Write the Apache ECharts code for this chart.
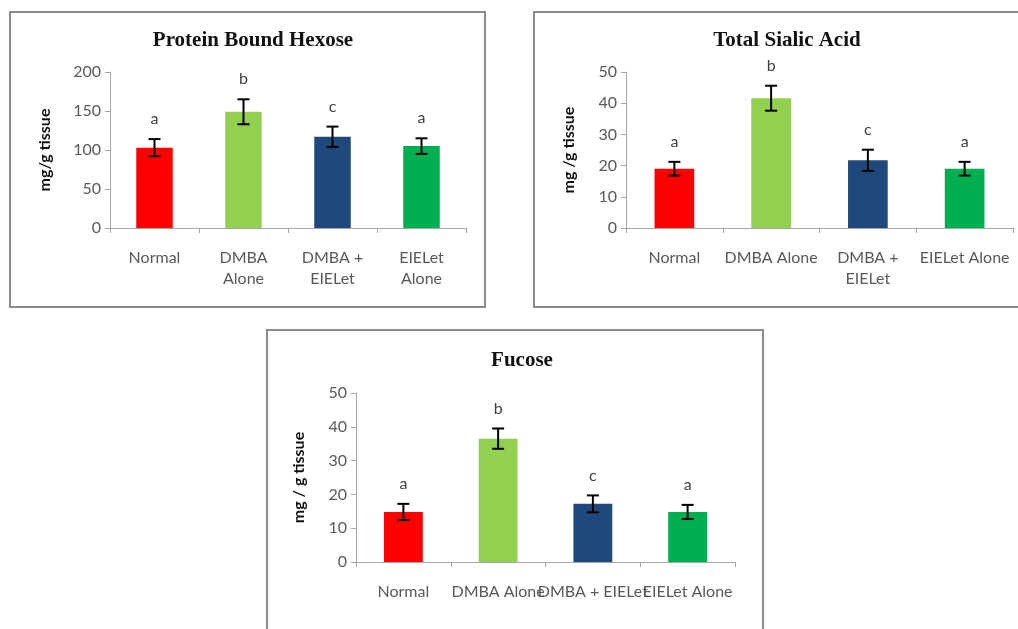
<!DOCTYPE html>
<html><head><meta charset="utf-8">
<script src="https://cdn.jsdelivr.net/npm/echarts@6/dist/echarts.min.js"></script>
<style>html,body{margin:0;padding:0;background:#fff}#c{width:1018px;height:629px}</style>
</head><body><div id="c"></div>
<script>
// ---- data ----
const catsHexose = ['Normal', 'DMBA\nAlone', 'DMBA +\nEIELet', 'EIELet\nAlone'];
const catsSialic = ['Normal', 'DMBA Alone', 'DMBA +\nEIELet', 'EIELet Alone'];
const catsFucose = ['Normal', 'DMBA Alone', 'DMBA + EIELet', 'EIELet Alone'];
const hexoseVals = [103, 149, 117, 105];
const hexoseErr = [11, 16, 13, 10];
const sialicVals = [19, 41.6, 21.7, 19];
const sialicErr = [2.2, 4, 3.4, 2.2];
const fucoseVals = [14.8, 36.5, 17.2, 14.8];
const fucoseErr = [2.4, 3, 2.5, 2.1];
const letters = ['a', 'b', 'c', 'a'];
const barColors = ['#FF0000', '#92D050', '#1F497D', '#00B050'];
const titles = ['Protein Bound Hexose', 'Total Sialic Acid', 'Fucose'];
const yNames = ['mg/g tissue', 'mg /g tissue', 'mg / g tissue'];
const yMax = [200, 50, 50];
const yStep = [50, 10, 10];

const chart = echarts.init(document.getElementById('c'));
const grids = [
  {left: 110, top: 72, width: 356, height: 156},
  {left: 626, top: 72, width: 387, height: 156},
  {left: 356, top: 393, width: 379, height: 169}
];
const catsList = [catsHexose, catsSialic, catsFucose];
const valsList = [hexoseVals, sialicVals, fucoseVals];
const errList = [hexoseErr, sialicErr, fucoseErr];
const titlePos = [[248, 25], [782, 25], [517, 345]];
const yNamePos = [45, 569, 299];

const axisGray = '#A6A6A6';
const labelGray = '#595959';

const xAxis = [], yAxis = [], series = [], title = [];
for (let i = 0; i < 3; i++) {
  title.push({
    text: titles[i], left: titlePos[i][0], top: titlePos[i][1], textAlign: 'center',
    textStyle: {fontFamily: 'Liberation Serif', fontWeight: 'bold', fontSize: 21, color: '#111'}
  });
  xAxis.push({
    type: 'category', gridIndex: i, data: catsList[i],
    axisLine: {lineStyle: {color: axisGray, width: 1}},
    axisTick: {show: true, length: 5, lineStyle: {color: axisGray}},
    axisLabel: {interval: 0, color: labelGray, fontFamily: 'Lato', fontSize: 16, margin: 19, lineHeight: 21}
  });
  yAxis.push({
    type: 'value', gridIndex: i, min: 0, max: yMax[i], interval: yStep[i],
    name: yNames[i], nameLocation: 'middle', nameGap: grids[i].left - yNamePos[i] - 8,
    nameTextStyle: {fontFamily: 'Lato', fontWeight: 'bold', fontSize: 16, color: '#111'},
    axisLine: {show: true, lineStyle: {color: axisGray}},
    axisTick: {show: true, length: 5, lineStyle: {color: axisGray}},
    splitLine: {show: false},
    axisLabel: {color: labelGray, fontFamily: 'Lato', fontSize: 16, margin: 9}
  });
  series.push({
    type: 'bar', xAxisIndex: i, yAxisIndex: i, barWidth: '41%',
    data: valsList[i].map((v, j) => ({value: v, itemStyle: {color: barColors[j]}})),
    silent: true
  });
  const errs = errList[i];
  series.push({
    type: 'custom', xAxisIndex: i, yAxisIndex: i, silent: true, z: 5,
    data: valsList[i].map((v, j) => [j, v, errs[j]]),
    renderItem: function (params, api) {
      const x = api.value(0), v = api.value(1), e = api.value(2);
      const top = api.coord([x, v + e]);
      const bot = api.coord([x, v - e]);
      const cap = 6;
      const st = {stroke: '#000', lineWidth: 2};
      return {
        type: 'group', children: [
          {type: 'line', shape: {x1: top[0], y1: top[1], x2: bot[0], y2: bot[1]}, style: st},
          {type: 'line', shape: {x1: top[0] - cap, y1: top[1], x2: top[0] + cap, y2: top[1]}, style: st},
          {type: 'line', shape: {x1: bot[0] - cap, y1: bot[1], x2: bot[0] + cap, y2: bot[1]}, style: st},
          {type: 'text', x: top[0], y: top[1] - 20, style: {
            text: letters[params.dataIndex], fill: '#404040', font: '16px Lato',
            align: 'center', verticalAlign: 'middle'}}
        ]
      };
    }
  });
}

chart.setOption({
  animation: false,
  title: title,
  grid: grids,
  xAxis: xAxis,
  yAxis: yAxis,
  series: series,
  graphic: [
    {type: 'rect', shape: {x: 10, y: 12, width: 475, height: 295}, style: {fill: 'none', stroke: '#8C8C8C', lineWidth: 2}, z: -1},
    {type: 'rect', shape: {x: 534, y: 12, width: 500, height: 295}, style: {fill: 'none', stroke: '#8C8C8C', lineWidth: 2}, z: -1},
    {type: 'rect', shape: {x: 267, y: 330, width: 496, height: 320}, style: {fill: 'none', stroke: '#8C8C8C', lineWidth: 2}, z: -1}
  ]
});
</script></body></html>
